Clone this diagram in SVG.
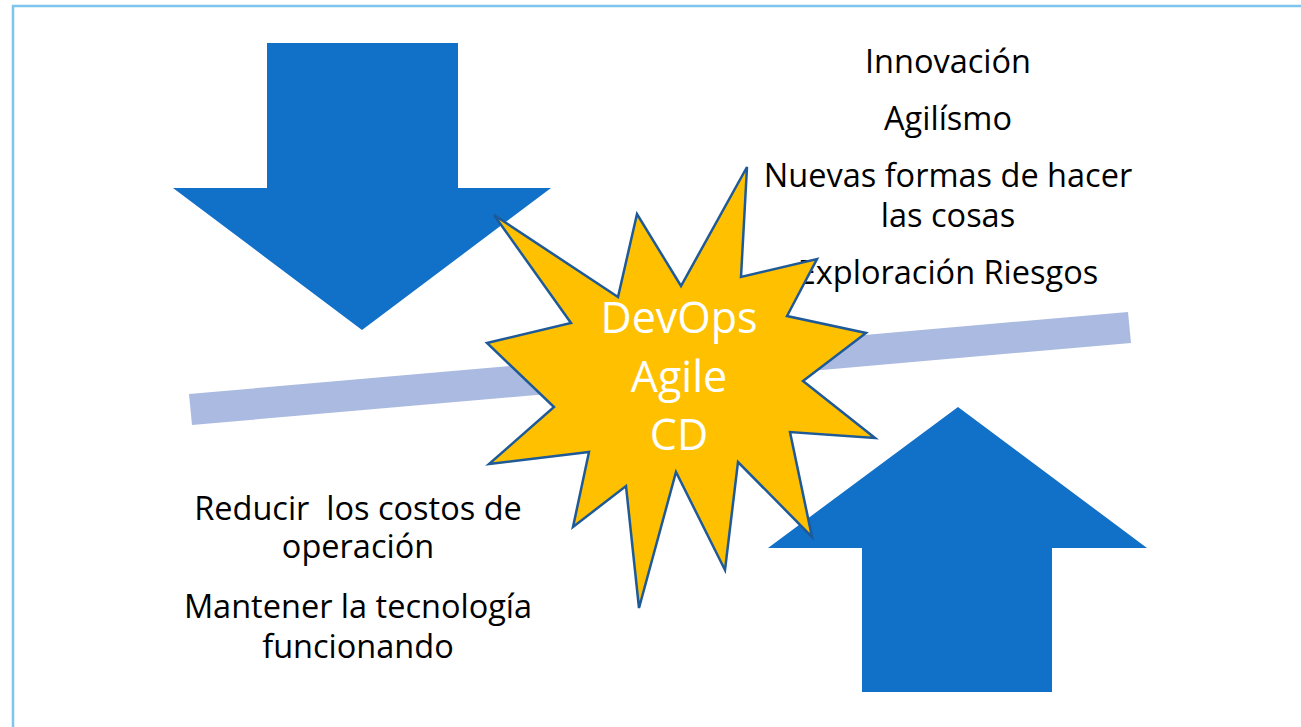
<svg xmlns="http://www.w3.org/2000/svg" width="1301" height="727" viewBox="0 0 1301 727">
<style>
.arrow{fill:#1170C7;}
.txt{font-family:"Open Sans","Noto Sans",sans-serif;font-size:32.5px;fill:#000;text-anchor:middle;white-space:pre;}
.star-txt{font-family:"Open Sans","Noto Sans",sans-serif;font-size:43px;fill:#fff;text-anchor:middle;}
</style>
<rect x="0" y="0" width="1301" height="727" fill="#fff"/>
<rect x="13" y="6" width="1320" height="740" fill="none" stroke="#7CC6EE" stroke-width="2.5"/>
<g id="connectors">
<polygon id="bar" points="189,394 1128,312 1131,343 192,425" fill="#ABBAE0"/>
</g>
<g id="arrow-down">
<polygon class="arrow" points="267,43 458,43 458,188 551,188 362,330 173,188 267,188"/>
</g>
<g id="arrow-up">
<polygon class="arrow" points="958,407 1147,548 1052,548 1052,692 862,692 862,548 768,548"/>
</g>
<g id="text-right">
<text class="txt" x="948" y="73">Innovación</text>
<text class="txt" x="948" y="130">Agilísmo</text>
<text class="txt" x="948" y="187">Nuevas formas de hacer</text>
<text class="txt" x="948" y="227">las cosas</text>
<text class="txt" x="948" y="284">Exploración Riesgos</text>
</g>
<g id="text-left">
<text class="txt" x="358" y="520" xml:space="preserve">Reducir  los costos de</text>
<text class="txt" x="358" y="558">operación</text>
<text class="txt" x="358" y="618">Mantener la tecnología</text>
<text class="txt" x="358" y="658">funcionando</text>
</g>
<g id="star">
<polygon points="494,215 618,297 637,214 681,286 747,167 741,277 817,259 787,316 866,333 803,381 875,438 790,432 812,537 738,462 725,570 676,472 639,608 626,486 573,527 589,452 489,464 554,407 487,343 571,323" fill="#FFC000" stroke="#1F5A98" stroke-width="2.5" stroke-linejoin="miter"/>
<text class="star-txt" x="679" y="333">DevOps</text>
<text class="star-txt" x="679" y="392">Agile</text>
<text class="star-txt" x="679" y="450">CD</text>
</g>
</svg>
